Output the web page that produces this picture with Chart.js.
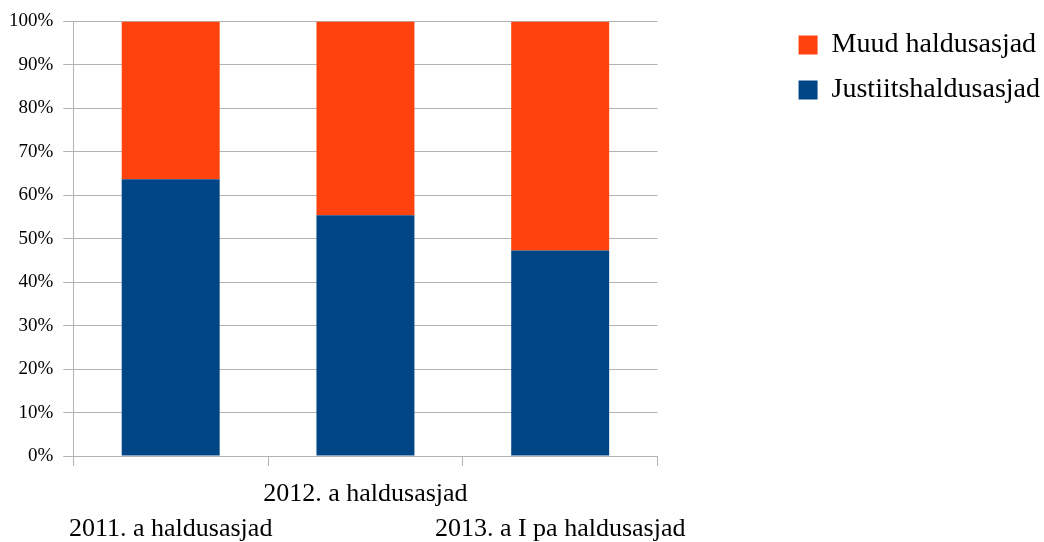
<!DOCTYPE html>
<html>
<head>
<meta charset="utf-8">
<script src="https://cdn.jsdelivr.net/npm/chart.js@4.4.1/dist/chart.umd.min.js"></script>
<style>
  html, body { margin: 0; padding: 0; background: #fff; }
  #wrap { width: 1044px; height: 542px; }
</style>
</head>
<body>
<div id="wrap"><canvas id="myChart"></canvas></div>
<script>
// kategooriad (astmelised sildid nagu originaalis)
const categories = [
  ['', '2011. a haldusasjad'],
  ['2012. a haldusasjad', ''],
  ['', '2013. a I pa haldusasjad']
];
const justiits = [63.7, 55.4, 47.3];
const muud = [36.3, 44.6, 52.7];
const yTicks = ['0%', '10%', '20%', '30%', '40%', '50%', '60%', '70%', '80%', '90%', '100%'];

const gridColor = '#b3b3b3';
const font = 'Liberation Serif';

add_bar_chart();

/**
 * 100% tulpdiagramm
 */
function add_bar_chart() {
  new Chart(
    document.getElementById('myChart').getContext('2d'),
    {
      type: 'bar',
      data: {
        labels: categories,
        datasets: [{
          label: 'Justiitshaldusasjad',
          data: justiits,
          backgroundColor: '#004586',
          borderWidth: 0
        }, {
          label: 'Muud haldusasjad',
          data: muud,
          backgroundColor: '#ff420e',
          borderWidth: 0
        }]
      },
      options: {
        responsive: true,
        maintainAspectRatio: false,
        animation: false,
        datasets: {
          bar: { barPercentage: 0.503, categoryPercentage: 1 }
        },
        layout: {
          padding: { top: 14, left: -1, right: -6, bottom: 0 }
        },
        scales: {
          x: {
            stacked: true,
            grid: {
              offset: true,
              drawOnChartArea: false,
              drawTicks: true,
              tickLength: 10,
              color: gridColor
            },
            border: { color: gridColor },
            ticks: {
              color: '#000',
              padding: 11,
              maxRotation: 0,
              autoSkip: false,
              font: { family: font, size: 26, lineHeight: 1.33 }
            },
            afterFit: function(scale) { scale.height = 86; }
          },
          y: {
            stacked: true,
            min: 0,
            max: 100,
            grid: {
              color: gridColor,
              tickLength: 10
            },
            border: { color: gridColor },
            ticks: {
              stepSize: 10,
              color: '#000',
              padding: 10,
              font: { family: font, size: 19 },
              callback: function(value) {
                return yTicks[Math.round(value / 10)];
              }
            }
          },
          gap: {
            position: 'right',
            display: true,
            grid: { display: false },
            border: { display: false },
            ticks: { display: false },
            afterFit: function(scale) { scale.width = 124; }
          }
        },
        plugins: {
          legend: {
            position: 'right',
            align: 'start',
            reverse: true,
            maxWidth: 320,
            labels: {
              color: '#000',
              boxWidth: 19,
              boxHeight: 19,
              padding: 17,
              font: { family: font, size: 28 }
            }
          },
          tooltip: { enabled: false }
        }
      }
    }
  );
}
</script>
</body>
</html>
